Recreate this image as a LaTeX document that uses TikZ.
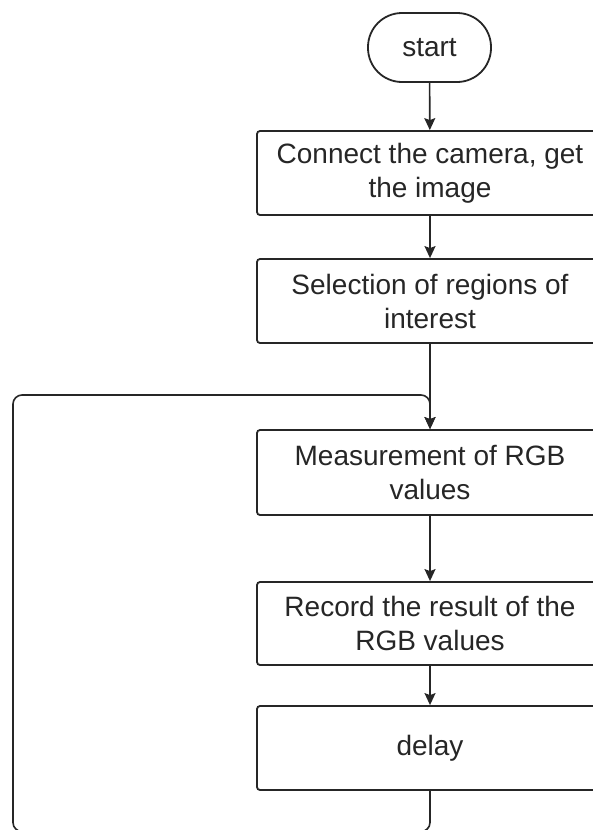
\documentclass[tikz,border=0pt]{standalone}
\usepackage{fontspec}
\setmainfont{Liberation Sans}
\usetikzlibrary{arrows.meta}
\begin{document}
\begin{tikzpicture}[x=1pt,y=-1pt,
  every node/.style={font=\fontsize{28}{34}\selectfont, text=black!85},
  procbox/.style={draw=black!85, line width=1.8pt, rounded corners=3pt, minimum width=346pt, minimum height=84pt, inner sep=0pt, align=center},
  term/.style={draw=black!85, line width=1.8pt, rounded corners=34pt, minimum width=123pt, minimum height=69pt, inner sep=0pt},
  conn/.style={draw=black!85, line width=1.6pt, -{Stealth[length=12pt,width=11pt,inset=2pt]}}
]
\useasboundingbox (0,0) rectangle (593,830);
\node[term] (start) at (429.5,47.5) {start};
\node[procbox] (b1) at (430,173) {Connect the camera, get\\the image};
\node[procbox] (b2) at (430,301) {Selection of regions of\\interest};
\node[procbox, minimum height=85pt] (b3) at (430,472.5) {Measurement of RGB\\values};
\node[procbox, minimum height=83pt] (b4) at (430,623.5) {Record the result of the\\RGB values};
\node[procbox] (b5) at (430,748) {delay};
\coordinate (j) at (430,395);
\draw[conn] (start) -- (b1);
\draw[conn] (b1) -- (b2);
\draw[conn] (b2) -- (b3);
\draw[conn] (b3) -- (b4);
\draw[conn] (b4) -- (b5);
\draw[conn, rounded corners=9pt] (b5.south) -- (430,831.5) -- (13,831.5) -- (13,395) -- (j) -- (b3.north);
\end{tikzpicture}
\end{document}
